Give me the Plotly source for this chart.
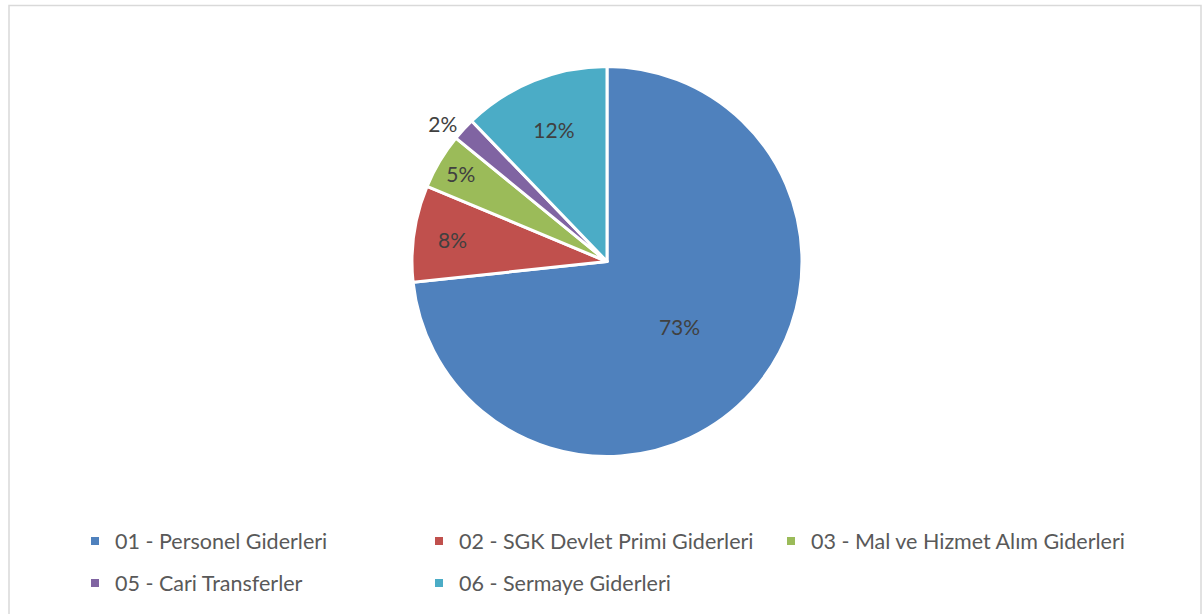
import plotly.graph_objects as go

categories = [
    "01 - Personel Giderleri",
    "02 - SGK Devlet Primi Giderleri",
    "03 - Mal ve Hizmet Alım Giderleri",
    "05 - Cari Transferler",
    "06 - Sermaye Giderleri",
]
values = [73.3, 8.0, 4.6, 1.9, 12.2]
colors = ["#4F81BD", "#C0504D", "#9BBB59", "#8064A2", "#4BACC6"]
text_positions = ["inside", "inside", "inside", "outside", "inside"]

W, H = 1202, 614
cx, cy, r = 607, 261.5, 195

# legend entry placement (pixels from left / top of figure)
legend_x = [75, 419, 771, 75, 419]
legend_y = [520.5, 520.5, 520.5, 562.5, 562.5]

FONT = "Lato, 'Open Sans', sans-serif"

fig = go.Figure(
    go.Pie(
        labels=categories,
        values=values,
        sort=False,
        direction="clockwise",
        rotation=0,
        marker=dict(colors=colors, line=dict(color="white", width=3)),
        texttemplate="%{percent:.0%}",
        textposition=text_positions,
        insidetextorientation="horizontal",
        textfont=dict(family=FONT, size=21, color="#404040"),
        domain=dict(x=[(cx - r) / W, (cx + r) / W], y=[(H - cy - r) / H, (H - cy + r) / H]),
        hoverinfo="label+percent",
        showlegend=False,
    )
)

legend_layout = {}
for i, (cat, col) in enumerate(zip(categories, colors)):
    name = "legend" if i == 0 else f"legend{i + 1}"
    fig.add_trace(
        go.Scatter(
            x=[None], y=[None], mode="markers", name=cat,
            marker=dict(symbol="square", size=8, color=col),
            legend=name, showlegend=True, hoverinfo="skip",
        )
    )
    legend_layout[name] = dict(
        orientation="h",
        x=legend_x[i] / W, xanchor="left",
        y=(H - legend_y[i]) / H, yanchor="top",
        font=dict(family=FONT, size=21.5, color="#595959"),
        itemwidth=30,
        bgcolor="rgba(0,0,0,0)",
    )

fig.add_shape(
    type="rect", xref="paper", yref="paper",
    x0=9 / W, x1=1201 / W, y0=-0.01, y1=(H - 5.5) / H,
    line=dict(color="#D9D9D9", width=1.5), fillcolor="rgba(0,0,0,0)",
)

fig.update_layout(
    width=W, height=H,
    margin=dict(l=0, r=0, t=0, b=0),
    paper_bgcolor="white",
    plot_bgcolor="white",
    showlegend=True,
    xaxis=dict(visible=False),
    yaxis=dict(visible=False),
    **legend_layout,
)

fig.write_html(
    "out.html",
    config={"displayModeBar": False},
    post_script="document.body.style.margin='0';",
)
